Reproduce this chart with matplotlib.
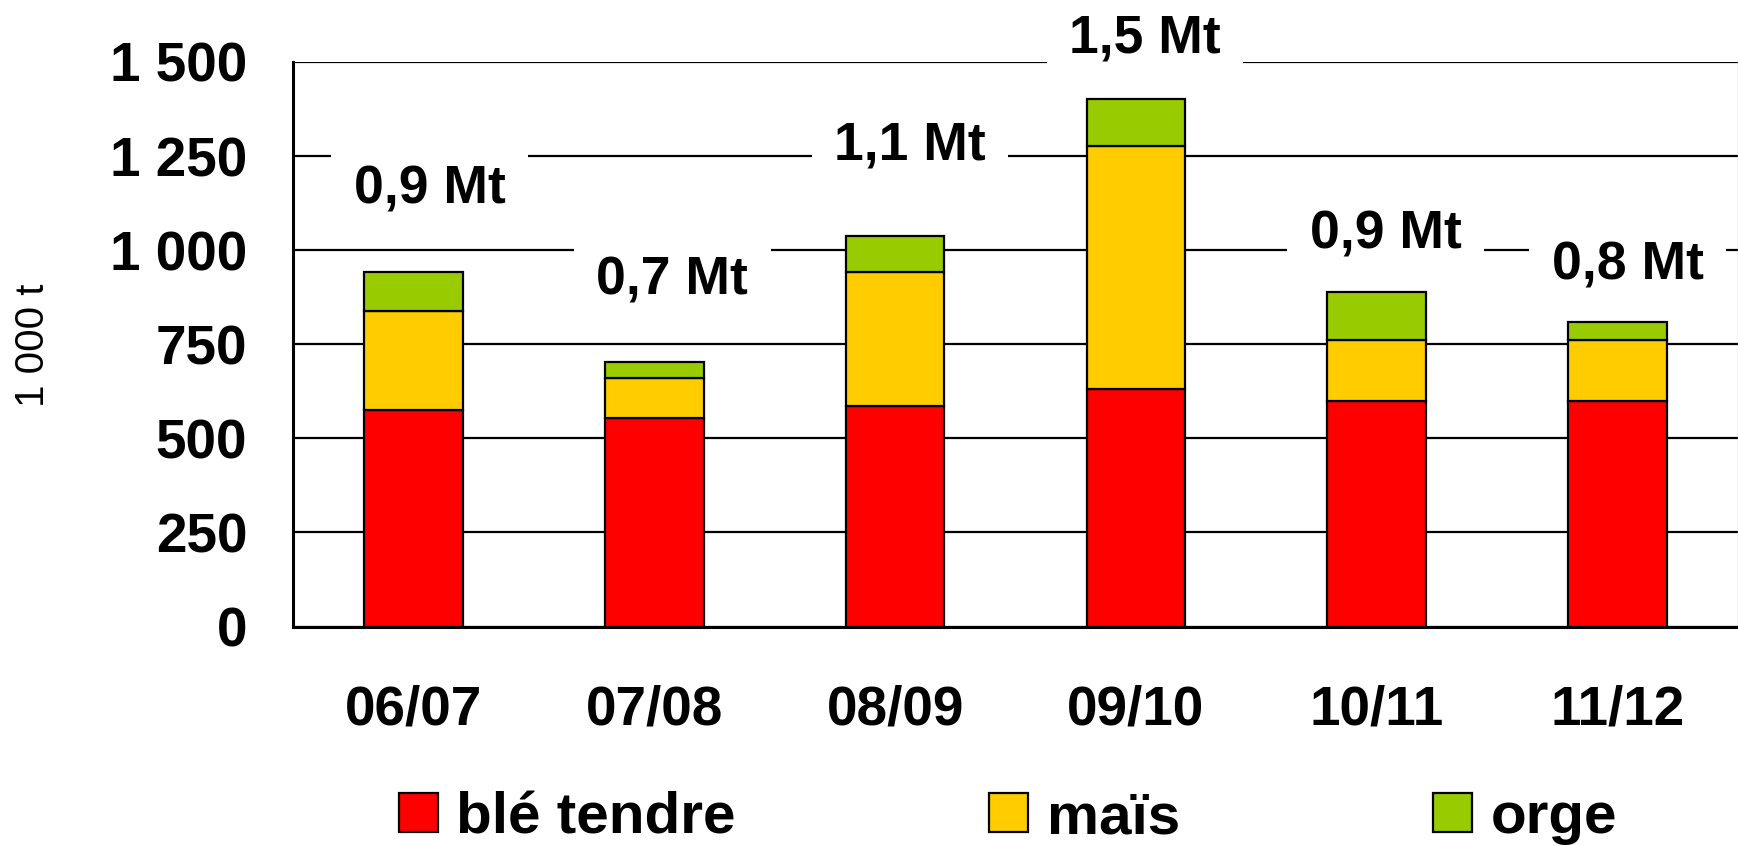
import matplotlib
matplotlib.use("Agg")
import matplotlib.pyplot as plt
import numpy as np
from matplotlib.patches import Patch

plt.rcParams['font.family'] = ['Liberation Sans', 'DejaVu Sans']

# ---- data ----
campagnes = ["06/07", "07/08", "08/09", "09/10", "10/11", "11/12"]
ble_tendre = [575, 555, 585, 630, 600, 600]
mais = [263, 105, 358, 648, 162, 162]
orge = [105, 43, 94, 124, 128, 46]
total_labels = ["0,9 Mt", "0,7 Mt", "1,1 Mt", "1,5 Mt", "0,9 Mt", "0,8 Mt"]
series_names = ["blé tendre", "maïs", "orge"]
y_ticks = [0, 250, 500, 750, 1000, 1250, 1500]
y_ticklabels = ["0", "250", "500", "750", "1 000", "1 250", "1 500"]
y_unit = "1 000 t"

# ---- layout / style ----
colors = ["#FF0000", "#FFCC00", "#99CC00"]
label_dx = [0.068, 0.075, 0.062, 0.037, 0.037, 0.041]
label_dy = [182, 178, 205, 124, 115, 114]
FS = 39.5
TFS = 38.5
LFS = 42

fig = plt.figure(figsize=(17.38, 8.46), dpi=100)
ax = fig.add_axes([293 / 1738, 1 - 626.5 / 846, 1 - 293 / 1738, (626.5 - 62) / 846])

x = np.arange(len(campagnes))
w = 0.41
b1 = np.array(ble_tendre)
b2 = b1 + np.array(mais)
tot = b2 + np.array(orge)
ax.bar(x, ble_tendre, w, color=colors[0], edgecolor="black", linewidth=1.6, zorder=3)
ax.bar(x, mais, w, bottom=b1, color=colors[1], edgecolor="black", linewidth=1.6, zorder=3)
ax.bar(x, orge, w, bottom=b2, color=colors[2], edgecolor="black", linewidth=1.6, zorder=3)

ax.set_xlim(-0.5, len(campagnes) - 0.5)
ax.set_ylim(0, 1500)
ax.set_yticks(y_ticks)
ax.set_yticklabels(y_ticklabels, fontsize=FS, fontweight="bold")
ax.set_xticks(x)
ax.set_xticklabels(campagnes, fontsize=FS, fontweight="bold")
ax.tick_params(axis="y", length=0, pad=33)
ax.tick_params(axis="x", length=0, pad=42)

ax.yaxis.grid(True, color="black", linewidth=1.6, zorder=1)
ax.set_axisbelow(True)
ax.spines["top"].set_visible(False)
ax.spines["right"].set_color("#BBBBBB")
ax.spines["right"].set_linewidth(1.0)
ax.spines["left"].set_linewidth(2.2)
ax.spines["bottom"].set_linewidth(2.2)

for i in range(len(campagnes)):
    ax.text(x[i] + label_dx[i], tot[i] + label_dy[i], total_labels[i],
            ha="center", va="baseline", fontsize=TFS, fontweight="bold",
            bbox=dict(boxstyle="square,pad=0.42", fc="white", ec="none"),
            zorder=4, clip_on=False)

fig.text(33 / 1738, 1 - 345 / 846, y_unit, rotation=90, ha="center", va="center",
         fontsize=29)

handles = [Patch(facecolor=c, edgecolor="black", linewidth=1.6) for c in colors]
fig.legend(handles, series_names, loc="center", bbox_to_anchor=(1008 / 1738, 1 - 818 / 846),
           ncol=3, frameon=False, prop=dict(size=LFS, weight="bold"),
           handlelength=0.67, handleheight=0.65, handletextpad=0.31,
           columnspacing=4.35, borderpad=0, borderaxespad=0)

fig.savefig("out.png", dpi=100)
